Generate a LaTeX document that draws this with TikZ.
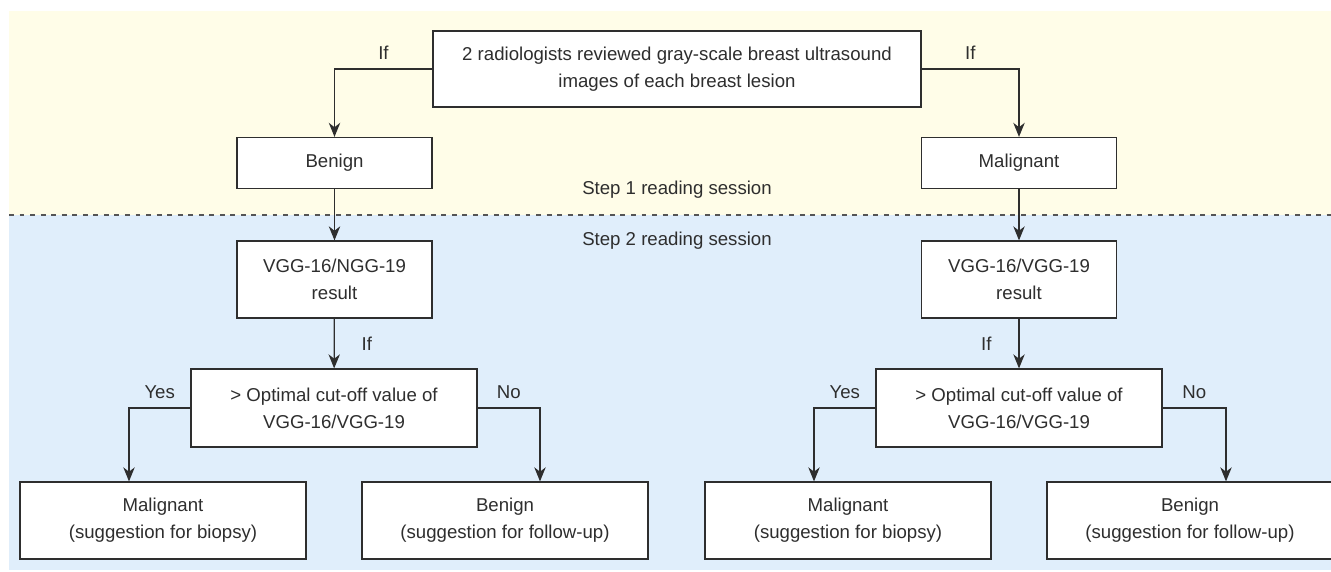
\documentclass[tikz,border=0pt]{standalone}
\usepackage{fontspec}
\setmainfont{Liberation Sans}
\usetikzlibrary{arrows.meta,positioning,calc}
\definecolor{sessionone}{HTML}{FFFDE8}
\definecolor{sessiontwo}{HTML}{E0EEFB}
\definecolor{trait}{HTML}{2E2E2E}
\definecolor{tiret}{HTML}{555555}
\tikzset{
  boite/.style={rectangle, draw=trait, line width=0.7pt, fill=white, align=center,
                inner sep=0pt, text=trait, minimum width=#1},
  fleche/.style={-{Stealth[length=8pt,width=6.5pt,inset=2.5pt]}, line width=0.7pt, draw=trait},
  lab/.style={anchor=base, yshift=0.2cm, text=trait},
  sess/.style={text=trait},
}

\begin{document}
\begin{tikzpicture}[x=0.02cm, y=-0.02cm, font=\fontsize{10.6}{15.3}\selectfont]
    \useasboundingbox (0,0) rectangle (1331,571);
    \clip (0,0) rectangle (1331,571);
    % the two reading sessions
    \fill[sessionone] (9,11) rectangle (1331,215);
    \fill[sessiontwo] (9,215) rectangle (1331,570);
    \draw[tiret, line width=0.8pt, dash pattern=on 2.8pt off 3.2pt] (9,215) -- (1331,215);
    \node[sess] (stepone) at (677,190) {Step 1 reading session};
    \node[sess] (steptwo) at (677,241) {Step 2 reading session};

    \node[boite=9.76cm, minimum height=1.52cm] (review) at (677,69)
      {2 radiologists reviewed gray-scale breast ultrasound\\images of each breast lesion};
    \node[boite=3.9cm, minimum height=1.02cm] (benL) at (334.5,163) {Benign};
    \node[boite=3.9cm, minimum height=1.02cm] (malR) at (1019,163) {Malignant};
    \node[boite=3.9cm, minimum height=1.54cm] (vggL) at (334.5,279.5) {VGG-16/NGG-19\\result};
    \node[boite=3.9cm, minimum height=1.54cm] (vggR) at (1019,279.5) {VGG-16/VGG-19\\result};
    \node[boite=5.72cm, minimum height=1.56cm] (cutL) at (334,408) {> Optimal cut-off value of\\VGG-16/VGG-19};
    \node[boite=5.72cm, minimum height=1.56cm] (cutR) at (1019,408) {> Optimal cut-off value of\\VGG-16/VGG-19};
    \node[boite=5.72cm, minimum height=1.54cm] (biopsyL) at (163,520.5) {Malignant\\(suggestion for biopsy)};
    \node[boite=5.72cm, minimum height=1.54cm] (followL) at (505,520.5) {Benign\\(suggestion for follow-up)};
    \node[boite=5.72cm, minimum height=1.54cm] (biopsyR) at (848,520.5) {Malignant\\(suggestion for biopsy)};
    \node[boite=5.72cm, minimum height=1.54cm] (followR) at (1190,520.5) {Benign\\(suggestion for follow-up)};

    % step 1
    \draw[fleche] (review.west) -| node[lab, pos=0.25] (ifA) {If} (benL.north);
    \draw[fleche] (review.east) -| node[lab, pos=0.25] (ifB) {If} (malR.north);
    % step 2
    \draw[fleche] (benL) -- (vggL);
    \draw[fleche] (malR) -- (vggR);
    \draw[fleche] (vggL) -- node[right=0.42cm, text=trait] (ifC) {If} (cutL);
    \draw[fleche] (vggR) -- node[left=0.42cm, text=trait] (ifD) {If} (cutR);
    \draw[fleche] (cutL.west) -| node[lab, pos=0.25] (yesL) {Yes} ([xshift=-0.68cm]biopsyL.north);
    \draw[fleche] (cutL.east) -| node[lab, pos=0.25] (noL) {No} ([xshift=0.7cm]followL.north);
    \draw[fleche] (cutR.west) -| node[lab, pos=0.25] (yesR) {Yes} ([xshift=-0.68cm]biopsyR.north);
    \draw[fleche] (cutR.east) -| node[lab, pos=0.25] (noR) {No} ([xshift=0.72cm]followR.north);
  \end{tikzpicture}
\end{document}
